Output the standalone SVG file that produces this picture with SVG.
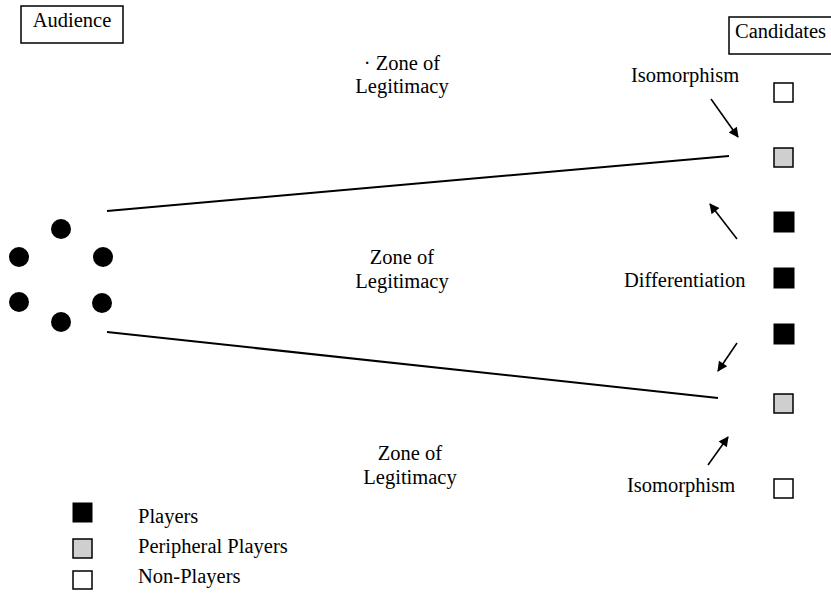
<svg xmlns="http://www.w3.org/2000/svg" width="831" height="604" viewBox="0 0 831 604">
<style>
text{font-family:"Liberation Serif","Times New Roman",serif;font-size:20.5px;fill:#000}
.box{fill:#fff;stroke:#000;stroke-width:1.5}
.pl{fill:#000;stroke:#000;stroke-width:1}
.pp{fill:#cfcfcf;stroke:#000;stroke-width:1.5}
.np{fill:#fff;stroke:#000;stroke-width:1.5}
.ln{stroke:#000;stroke-width:2;fill:none}
.ar{stroke:#000;stroke-width:1.6;fill:none;marker-end:url(#ah)}
.mid{text-anchor:middle}
</style>
<defs>
<marker id="ah" viewBox="0 0 10 10" refX="9" refY="5" markerWidth="12" markerHeight="10" markerUnits="userSpaceOnUse" orient="auto">
<path d="M0,0 L10,5 L0,10 Z" fill="#000"/>
</marker>
</defs>
<g id="audience">
<rect class="box" x="21" y="6" width="102" height="37"/>
<text x="72" y="27" class="mid">Audience</text>
</g>
<g id="audience-members">
<circle cx="61" cy="229" r="10"/>
<circle cx="19" cy="257" r="10"/>
<circle cx="103" cy="257" r="10"/>
<circle cx="19" cy="302" r="10"/>
<circle cx="102" cy="303" r="10"/>
<circle cx="61" cy="322" r="10"/>
</g>
<g id="candidates">
<rect class="box" x="729" y="17" width="110" height="37"/>
<text x="735" y="38">Candidates</text>
</g>
<g id="candidate-squares">
<rect class="np" x="774" y="83" width="19" height="19"/>
<rect class="pp" x="774" y="148" width="19" height="19"/>
<rect class="pl" x="774" y="212" width="20" height="20"/>
<rect class="pl" x="774" y="268" width="20" height="20"/>
<rect class="pl" x="774" y="324" width="20" height="20"/>
<rect class="pp" x="774" y="394" width="19" height="19"/>
<rect class="np" x="774" y="479" width="19" height="19"/>
</g>
<g id="connectors">
<line class="ln" x1="107" y1="211" x2="729" y2="156"/>
<line class="ln" x1="107" y1="332" x2="718" y2="398"/>
<line class="ar" x1="711" y1="99" x2="738" y2="137"/>
<line class="ar" x1="737" y1="239" x2="710" y2="204"/>
<line class="ar" x1="737" y1="343" x2="718" y2="371"/>
<line class="ar" x1="708" y1="465" x2="728" y2="437"/>
</g>
<g id="labels">
<text x="631" y="82">Isomorphism</text>
<text x="624" y="287">Differentiation</text>
<text x="627" y="492">Isomorphism</text>
<text x="402" y="70" class="mid">· Zone of</text>
<text x="402" y="93" class="mid">Legitimacy</text>
<text x="402" y="264" class="mid">Zone of</text>
<text x="402" y="288" class="mid">Legitimacy</text>
<text x="410" y="460" class="mid">Zone of</text>
<text x="410" y="484" class="mid">Legitimacy</text>
</g>
<g id="legend">
<rect class="pl" x="73" y="503" width="19" height="19"/>
<rect class="pp" x="73" y="539" width="19" height="19"/>
<rect class="np" x="73" y="571" width="19" height="18"/>
<text x="138" y="523">Players</text>
<text x="138" y="553">Peripheral Players</text>
<text x="138" y="583">Non-Players</text>
</g>
</svg>
